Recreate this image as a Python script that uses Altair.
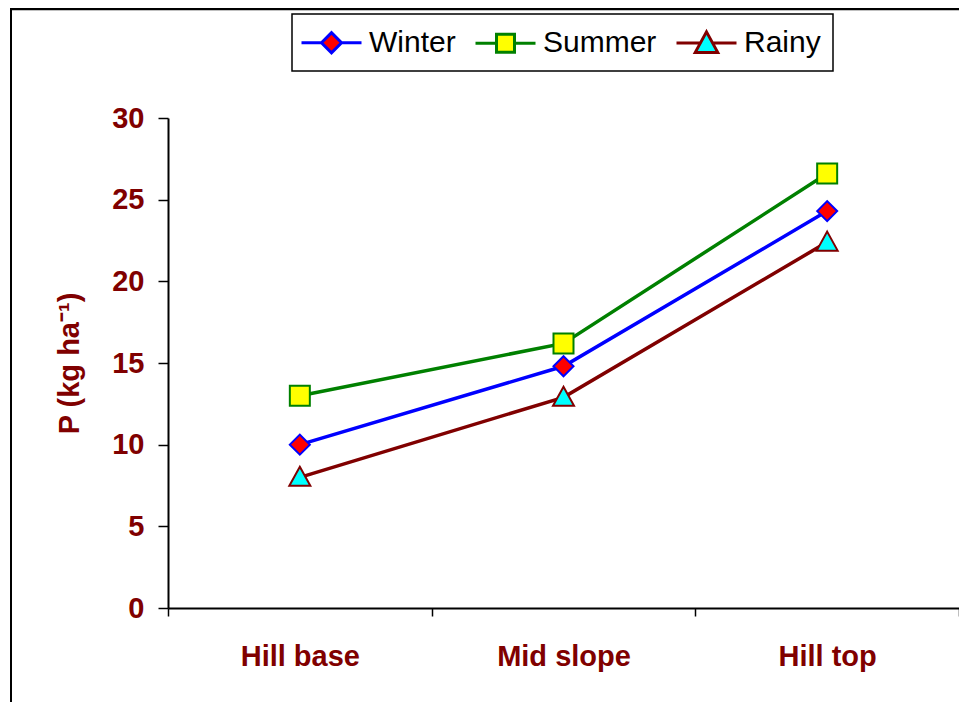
import altair as alt
import pandas as pd

positions = ["Hill base", "Mid slope", "Hill top"]
series = ["Winter", "Summer", "Rainy"]
winter = [10.0, 14.8, 24.3]
summer = [13.0, 16.2, 26.6]
rainy = [8.0, 12.9, 22.4]
y_ticks = [0, 5, 10, 15, 20, 25, 30]

line_colors = ["#0000FF", "#008000", "#800000"]
fill_colors = ["#FF0000", "#FFFF00", "#00FFFF"]
marker_shapes = ["diamond", "square", "M0,-1.05L1.05,0.85L-1.05,0.85Z"]
legend_paths = [
    "M-2,0L-0.67,0M-0.67,0L0,-0.67L0.67,0L0,0.67ZM0.67,0L2,0",
    "M-2,0L-0.6,0M-0.6,-0.6L0.6,-0.6L0.6,0.6L-0.6,0.6ZM0.6,0L2,0",
    "M-2,0L-0.4,0M0,-0.75L0.75,0.62L-0.75,0.62ZM0.4,0L2,0",
]

rows = []
for s, vals in zip(series, [winter, summer, rainy]):
    for p, v in zip(positions, vals):
        rows.append({"position": p, "series": s, "value": v})
df = pd.DataFrame(rows)

FONT = "Liberation Sans"
DARK_RED = "#800000"

x_enc = alt.X(
    "position:N",
    sort=positions,
    scale=alt.Scale(type="band", paddingInner=0, paddingOuter=0),
    bandPosition=0.5,
    axis=alt.Axis(
        title=None,
        labelAngle=0,
        labelFont=FONT,
        labelFontSize=29,
        labelFontWeight="bold",
        labelColor=DARK_RED,
        labelPadding=26,
        tickBand="extent",
        tickSize=8,
        tickColor="#000000",
        tickWidth=1.5,
        domainColor="#000000",
        domainWidth=2,
        grid=False,
    ),
)
y_enc = alt.Y(
    "value:Q",
    scale=alt.Scale(domain=[0, 30], nice=False),
    axis=alt.Axis(
        values=y_ticks,
        title="P (kg ha⁻¹)",
        titleFont=FONT,
        titleFontSize=29,
        titleFontWeight="bold",
        titleColor=DARK_RED,
        titlePadding=27,
        labelFont=FONT,
        labelFontSize=29,
        labelFontWeight="bold",
        labelColor=DARK_RED,
        labelPadding=14,
        tickSize=10,
        tickColor="#000000",
        tickWidth=1.5,
        domainColor="#000000",
        domainWidth=2,
        grid=False,
    ),
)

layers = []
for s, lc in zip(series, line_colors):
    base = alt.Chart(df).transform_filter(alt.datum.series == s)
    layers.append(base.mark_line(stroke=lc, strokeWidth=3.5).encode(x=x_enc, y=y_enc))
for s, lc, fc, shp in zip(series, line_colors, fill_colors, marker_shapes):
    base = alt.Chart(df).transform_filter(alt.datum.series == s)
    layers.append(
        base.mark_point(
            shape=shp, size=400, filled=True, fill=fc, stroke=lc, strokeWidth=2, opacity=1
        ).encode(x=x_enc, y=y_enc)
    )

leg = alt.Legend(
    title=None,
    orient="none",
    legendX=124,
    legendY=-104,
    direction="horizontal",
    labelFont=FONT,
    labelFontSize=30,
    labelColor="#000000",
    symbolSize=900,
    symbolStrokeWidth=3,
    symbolOffset=11,
    labelOffset=21,
    columnPadding=13,
    padding=12,
    strokeColor="#000000",
    fillColor="#FFFFFF",
)
legend_layer = (
    alt.Chart(df)
    .transform_filter("datum.value < 0")
    .mark_point(opacity=1, strokeWidth=3)
    .encode(
        stroke=alt.Stroke("series:N", scale=alt.Scale(domain=series, range=line_colors), legend=leg),
        fill=alt.Fill("series:N", scale=alt.Scale(domain=series, range=fill_colors), legend=leg),
        shape=alt.Shape("series:N", scale=alt.Scale(domain=series, range=legend_paths), legend=leg),
    )
)

border_df = pd.DataFrame({"k": [0]})
border_left = alt.Chart(border_df).mark_rule(color="#000000", strokeWidth=2).encode(
    x=alt.value(-157), y=alt.value(-109), y2=alt.value(600)
)
border_top = alt.Chart(border_df).mark_rule(color="#000000", strokeWidth=2.5).encode(
    x=alt.value(-158), x2=alt.value(791), y=alt.value(-109)
)

chart = (
    alt.layer(*layers, legend_layer, border_left, border_top)
    .properties(
        width=791,
        height=490,
        autosize=alt.AutoSizeParams(type="none"),
        padding={"left": 160, "top": 110, "right": 0, "bottom": 94},
        background="#FFFFFF",
    )
    .configure_view(stroke=None)
    .configure_legend(strokeWidth=1.5)
)

chart.save("out.html", embed_options={"renderer": "svg", "actions": False})
